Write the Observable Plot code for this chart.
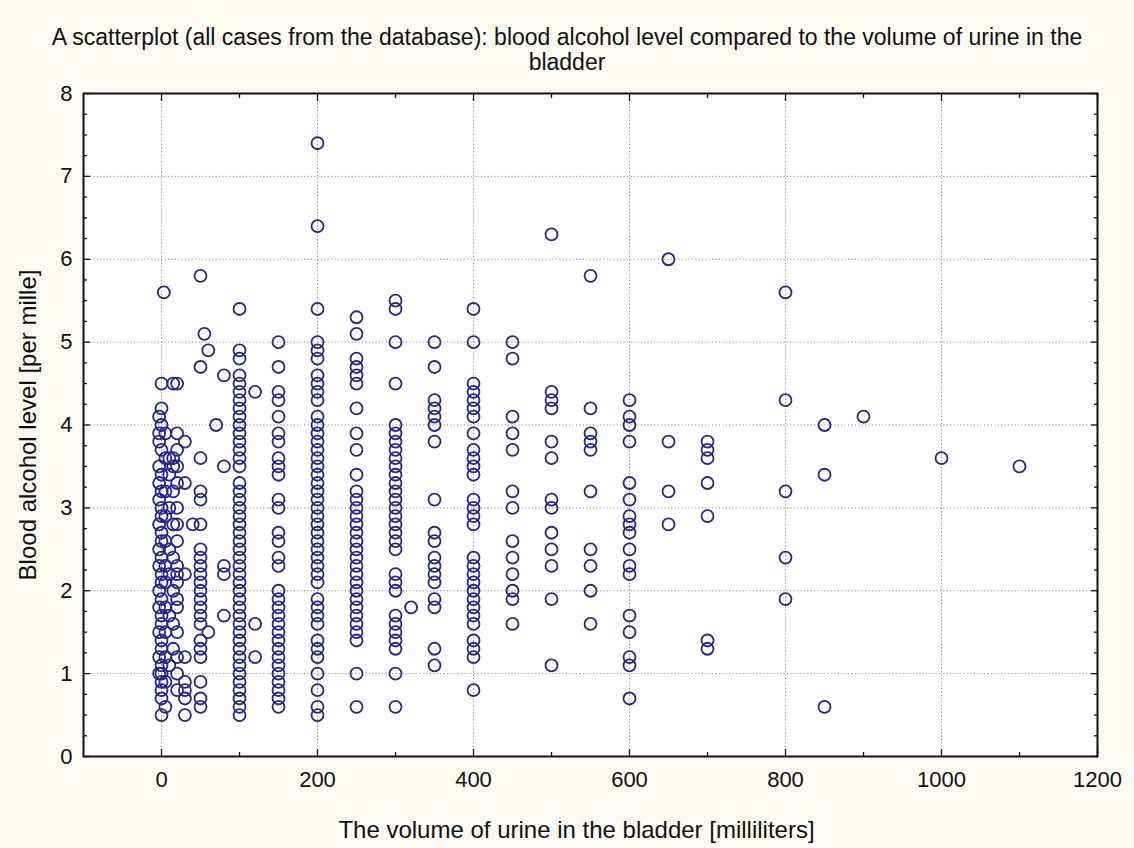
<!DOCTYPE html>
<html>
<head>
<meta charset="utf-8">
<script src="https://cdn.jsdelivr.net/npm/d3@7"></script>
<script src="https://cdn.jsdelivr.net/npm/@observablehq/plot@0.6"></script>
<style>
  html, body { margin: 0; padding: 0; background: #fcfaf0; }
  #wrap { width: 1134px; height: 848px; position: relative; overflow: hidden; }
  #title { width: 1134px; height: 80px; box-sizing: border-box; padding-top: 25px; text-align: center;
           font-family: "Liberation Sans", Arial, sans-serif; font-size: 23px; line-height: 25px; color: #111; }
  svg { display: block; }
</style>
</head>
<body>
<div id="wrap">
  <div id="title">A scatterplot (all cases from the database): blood alcohol level compared to the volume of urine in the<br>bladder</div>
  <div id="chart"></div>
</div>
<script>
// ---- Data: blood alcohol level [per mille] per urine volume [ml] ----
const lvlNeg3 = [4.1, 3.9, 3.8, 3.5, 3.3, 3.1, 2.8, 2.5, 2.3, 2.0, 1.8, 1.5, 1.2, 1.0];
const lvl0    = [4.5, 4.2, 4.0, 3.7, 3.4, 3.2, 3.0, 2.9, 2.7, 2.6, 2.4, 2.2, 2.1, 1.9, 1.7, 1.6, 1.4, 1.3, 1.1, 1.0, 0.9, 0.8, 0.7, 0.5];
const lvl3    = [5.6];
const lvl5    = [3.9, 3.6, 3.2, 2.9, 2.6, 2.3, 2.1, 1.8, 1.5, 1.2, 0.9, 0.6];
const lvl10   = [3.6, 3.4, 3.0, 2.5, 2.2, 1.7, 1.1];
const lvl15   = [4.5, 3.6, 3.5, 3.2, 2.8, 2.4, 2.0, 1.6, 1.3];
const lvl20   = [4.5, 3.9, 3.7, 3.5, 3.3, 3.0, 2.8, 2.6, 2.3, 2.2, 2.1, 1.9, 1.8, 1.5, 1.2, 1.0, 0.8];
const lvl30   = [3.8, 3.3, 2.2, 1.2, 0.9, 0.8, 0.7, 0.5];
const lvl40   = [2.8];
const lvl50   = [5.8, 4.7, 3.6, 3.2, 3.1, 2.8, 2.5, 2.4, 2.3, 2.2, 2.1, 2.0, 1.9, 1.8, 1.7, 1.6, 1.4, 1.3, 1.2, 0.9, 0.7, 0.6];
const lvl55   = [5.1];
const lvl60   = [4.9, 1.5];
const lvl70   = [4.0];
const lvl80   = [4.6, 3.5, 2.3, 2.2, 1.7];
const lvl100  = [5.4, 4.9, 4.8, 4.6, 4.5, 4.4, 4.3, 4.2, 4.1, 4.0, 3.9, 3.8, 3.7, 3.6, 3.5, 3.3, 3.2, 3.1, 3.0, 2.9, 2.8, 2.7, 2.6, 2.5, 2.4, 2.3, 2.2, 2.1, 2.0, 1.9, 1.8, 1.7, 1.6, 1.5, 1.4, 1.3, 1.2, 1.1, 1.0, 0.9, 0.8, 0.7, 0.6, 0.5];
const lvl120  = [4.4, 1.6, 1.2];
const lvl150  = [5.0, 4.7, 4.4, 4.3, 4.1, 3.9, 3.8, 3.6, 3.5, 3.4, 3.1, 3.0, 2.7, 2.6, 2.4, 2.3, 2.0, 1.9, 1.8, 1.7, 1.6, 1.5, 1.4, 1.3, 1.2, 1.1, 1.0, 0.9, 0.8, 0.7, 0.6];
const lvl200  = [7.4, 6.4, 5.4, 5.0, 4.9, 4.8, 4.6, 4.5, 4.4, 4.3, 4.1, 4.0, 3.9, 3.8, 3.7, 3.6, 3.5, 3.4, 3.3, 3.2, 3.1, 3.0, 2.9, 2.8, 2.7, 2.6, 2.5, 2.4, 2.3, 2.2, 2.1, 1.9, 1.8, 1.7, 1.6, 1.4, 1.3, 1.2, 1.0, 0.8, 0.6, 0.5];
const lvl250  = [5.3, 5.1, 4.8, 4.7, 4.6, 4.5, 4.2, 3.9, 3.7, 3.4, 3.2, 3.1, 3.0, 2.9, 2.8, 2.7, 2.6, 2.5, 2.4, 2.3, 2.2, 2.1, 2.0, 1.9, 1.8, 1.7, 1.6, 1.5, 1.4, 1.0, 0.6];
const lvl300  = [5.5, 5.4, 5.0, 4.5, 4.0, 3.9, 3.8, 3.7, 3.6, 3.5, 3.4, 3.3, 3.2, 3.1, 3.0, 2.9, 2.8, 2.7, 2.6, 2.5, 2.2, 2.1, 2.0, 1.7, 1.6, 1.5, 1.4, 1.3, 1.0, 0.6];
const lvl320  = [1.8];
const lvl350  = [5.0, 4.7, 4.3, 4.2, 4.1, 4.0, 3.8, 3.1, 2.7, 2.6, 2.4, 2.3, 2.2, 2.1, 1.9, 1.8, 1.3, 1.1];
const lvl400  = [5.4, 5.0, 4.5, 4.4, 4.3, 4.2, 4.1, 3.9, 3.7, 3.6, 3.5, 3.4, 3.1, 3.0, 2.9, 2.8, 2.4, 2.3, 2.2, 2.1, 2.0, 1.9, 1.8, 1.7, 1.6, 1.4, 1.3, 1.2, 0.8];
const lvl450  = [5.0, 4.8, 4.1, 3.9, 3.7, 3.2, 3.0, 2.6, 2.4, 2.2, 2.0, 1.9, 1.6];
const lvl500  = [6.3, 4.4, 4.3, 4.2, 3.8, 3.6, 3.1, 3.0, 2.7, 2.5, 2.3, 1.9, 1.1];
const lvl550  = [5.8, 4.2, 3.9, 3.8, 3.7, 3.2, 2.5, 2.3, 2.0, 1.6];
const lvl600  = [4.3, 4.1, 4.0, 3.8, 3.3, 3.1, 2.9, 2.8, 2.7, 2.5, 2.3, 2.2, 1.7, 1.5, 1.2, 1.1, 0.7];
const lvl650  = [6.0, 3.8, 3.2, 2.8];
const lvl700  = [3.8, 3.7, 3.6, 3.3, 2.9, 1.4, 1.3];
const lvl800  = [5.6, 4.3, 3.2, 2.4, 1.9];
const lvl850  = [4.0, 3.4, 0.6];
const lvl900  = [4.1];
const lvl1000 = [3.6];
const lvl1100 = [3.5];

const volumes = [-3, 0, 3, 5, 10, 15, 20, 30, 40, 50, 55, 60, 70, 80, 100, 120, 150, 200, 250, 300, 320, 350, 400, 450, 500, 550, 600, 650, 700, 800, 850, 900, 1000, 1100];
const levelLists = [lvlNeg3, lvl0, lvl3, lvl5, lvl10, lvl15, lvl20, lvl30, lvl40, lvl50, lvl55, lvl60, lvl70, lvl80, lvl100, lvl120, lvl150, lvl200, lvl250, lvl300, lvl320, lvl350, lvl400, lvl450, lvl500, lvl550, lvl600, lvl650, lvl700, lvl800, lvl850, lvl900, lvl1000, lvl1100];

const xTicks = [0, 200, 400, 600, 800, 1000, 1200];
const xMinor = [100, 300, 500, 700, 900, 1100];
const yTicks = [0, 1, 2, 3, 4, 5, 6, 7, 8];
const yMinor = d3.range(0, 8.01, 0.25).filter(v => v % 1 !== 0);
const xGrid = [0, 200, 400, 600, 800, 1000];
const yGrid = [1, 2, 3, 4, 5, 6, 7];

const xTitle = "The volume of urine in the bladder [milliliters]";
const yTitle = "Blood alcohol level [per mille]";

const points = volumes.flatMap((v, i) => levelLists[i].map(l => ({volume: v, level: l})));

const font = "Liberation Sans, Arial, sans-serif";
const ink = "#111";
const tickOpts = {stroke: ink, strokeWidth: 1.3, tickFormat: () => "", label: null};
const labelOpts = {tickSize: 0, fontSize: 22, fill: ink, label: null, tickFormat: d => String(d)};

const chart = Plot.plot({
  width: 1134,
  height: 768,
  marginLeft: 83,
  marginRight: 37,
  marginTop: 13,
  marginBottom: 92,
  style: {fontFamily: font, fontSize: "22px", color: ink, background: "transparent"},
  x: {domain: [-100, 1200], axis: null},
  y: {domain: [0, 8], axis: null},
  marks: [
    Plot.frame({fill: "white", stroke: null}),
    Plot.gridX(xGrid, {stroke: "#8a8a8a", strokeOpacity: 1, strokeDasharray: "1.2,2.2", strokeWidth: 1}),
    Plot.gridY(yGrid, {stroke: "#8a8a8a", strokeOpacity: 1, strokeDasharray: "1.2,2.2", strokeWidth: 1}),
    Plot.dot(points, {x: "volume", y: "level", r: 6, stroke: "#25258c", strokeWidth: 1.8, fill: "none"}),
    Plot.frame({stroke: ink, strokeWidth: 2}),
    // inward major ticks
    Plot.axisX(xTicks, {anchor: "bottom", tickSize: 7, insetBottom: 7, ...tickOpts}),
    Plot.axisX(xTicks, {anchor: "top", tickSize: 7, insetTop: 7, ...tickOpts}),
    Plot.axisY(yTicks, {anchor: "left", tickSize: 7, insetLeft: 7, ...tickOpts}),
    Plot.axisY(yTicks, {anchor: "right", tickSize: 7, insetRight: 7, ...tickOpts}),
    // inward minor ticks
    Plot.axisX(xMinor, {anchor: "bottom", tickSize: 4, insetBottom: 4, ...tickOpts}),
    Plot.axisX(xMinor, {anchor: "top", tickSize: 4, insetTop: 4, ...tickOpts}),
    Plot.axisY(yMinor, {anchor: "left", tickSize: 4, insetLeft: 4, ...tickOpts}),
    Plot.axisY(yMinor, {anchor: "right", tickSize: 4, insetRight: 4, ...tickOpts}),
    // tick labels
    Plot.axisX(xTicks, {anchor: "bottom", tickPadding: 15, ...labelOpts}),
    Plot.axisY(yTicks, {anchor: "left", tickPadding: 11, ...labelOpts}),
    // axis titles
    Plot.text([xTitle], {frameAnchor: "bottom", dy: 74, dx: -14, fontSize: 24, fill: ink, textAnchor: "middle", lineAnchor: "middle"}),
    Plot.text([yTitle], {frameAnchor: "left", dx: -55, rotate: -90, fontSize: 24, fill: ink, textAnchor: "middle", lineAnchor: "middle"})
  ]
});
document.getElementById("chart").appendChild(chart);
</script>
</body>
</html>
